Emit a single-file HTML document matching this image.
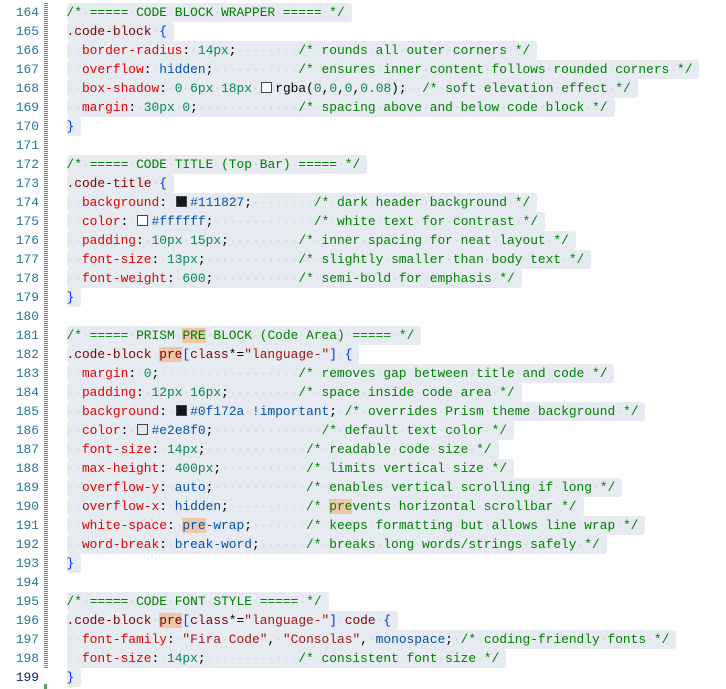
<!DOCTYPE html>
<html><head><meta charset="utf-8">
<style>
html,body{margin:0;padding:0;background:#fff;width:726px;height:689px;overflow:hidden}
.ed{position:absolute;left:0;top:3px;font-family:"Liberation Mono",monospace;font-size:12.88px;}
.ln{position:absolute;left:0;width:39px;text-align:right;color:#237893;line-height:19px;height:19px}
.cur{color:#0b216f}
.code{position:absolute;left:66.5px;line-height:19px;height:19px;white-space:pre;color:#000}
.sel{display:inline-block;background:#e5ebf1;padding-right:7px;height:19px;border-radius:3px}
.c{color:#008000}.p{color:#e50000}.v{color:#098658}.k{color:#0451a5}.s{color:#800000}.b{color:#0431fa}.str{color:#a31515}
.d{color:#d0d6dd}
.hl{background:#efc7a8}
.sw{display:inline-block;width:9px;height:9px;border:1px solid #444;margin:0 3.5px 0 1px;vertical-align:-1px;box-sizing:content-box}
.gut{position:absolute;left:44px;width:4px;background:repeating-linear-gradient(0deg,#3f8ad0 0 1px,#fff 1px 2px);}
.guide{position:absolute;left:68px;width:1px;background:#c8c8c8}
</style></head><body>
<div class="gut" style="top:3px;height:665px"></div>
<div style="position:absolute;left:44px;top:684px;width:3px;height:5px;background:#5aa05a"></div>
<div class="guide" style="top:630px;height:38px"></div>
<div class="ed">
<div class="ln" style="top:0">164</div><div class="code" style="top:0"><span class="sel"><span class="c">/*<span class="d">·</span>=====<span class="d">·</span>CODE<span class="d">·</span>BLOCK<span class="d">·</span>WRAPPER<span class="d">·</span>=====<span class="d">·</span>*/</span></span></div>
<div class="ln" style="top:19px">165</div><div class="code" style="top:19px"><span class="sel"><span class="s">.code-block</span><span class="d">·</span><span class="b">{</span></span></div>
<div class="ln" style="top:38px">166</div><div class="code" style="top:38px"><span class="sel"><span class="d">··</span><span class="p">border-radius</span>:<span class="d">·</span><span class="v">14px</span>;<span class="d">········</span><span class="c">/*<span class="d">·</span>rounds<span class="d">·</span>all<span class="d">·</span>outer<span class="d">·</span>corners<span class="d">·</span>*/</span></span></div>
<div class="ln" style="top:57px">167</div><div class="code" style="top:57px"><span class="sel"><span class="d">··</span><span class="p">overflow</span>:<span class="d">·</span><span class="k">hidden</span>;<span class="d">···········</span><span class="c">/*<span class="d">·</span>ensures<span class="d">·</span>inner<span class="d">·</span>content<span class="d">·</span>follows<span class="d">·</span>rounded<span class="d">·</span>corners<span class="d">·</span>*/</span></span></div>
<div class="ln" style="top:76px">168</div><div class="code" style="top:76px"><span class="sel"><span class="d">··</span><span class="p">box-shadow</span>:<span class="d">·</span><span class="v">0<span class="d">·</span>6px<span class="d">·</span>18px</span><span class="d">·</span><span class="sw" style="background:#fff"></span>rgba(<span class="v">0</span>,<span class="v">0</span>,<span class="v">0</span>,<span class="v">0.08</span>);<span class="d">··</span><span class="c">/*<span class="d">·</span>soft<span class="d">·</span>elevation<span class="d">·</span>effect<span class="d">·</span>*/</span></span></div>
<div class="ln" style="top:95px">169</div><div class="code" style="top:95px"><span class="sel"><span class="d">··</span><span class="p">margin</span>:<span class="d">·</span><span class="v">30px<span class="d">·</span>0</span>;<span class="d">·············</span><span class="c">/*<span class="d">·</span>spacing<span class="d">·</span>above<span class="d">·</span>and<span class="d">·</span>below<span class="d">·</span>code<span class="d">·</span>block<span class="d">·</span>*/</span></span></div>
<div class="ln" style="top:114px">170</div><div class="code" style="top:114px"><span class="sel"><span class="b">}</span></span></div>
<div class="ln" style="top:133px">171</div>
<div class="ln" style="top:152px">172</div><div class="code" style="top:152px"><span class="sel"><span class="c">/*<span class="d">·</span>=====<span class="d">·</span>CODE<span class="d">·</span>TITLE<span class="d">·</span>(Top<span class="d">·</span>Bar)<span class="d">·</span>=====<span class="d">·</span>*/</span></span></div>
<div class="ln" style="top:171px">173</div><div class="code" style="top:171px"><span class="sel"><span class="s">.code-title</span><span class="d">·</span><span class="b">{</span></span></div>
<div class="ln" style="top:190px">174</div><div class="code" style="top:190px"><span class="sel"><span class="d">··</span><span class="p">background</span>:<span class="d">·</span><span class="sw" style="background:#111827"></span><span class="k">#111827</span>;<span class="d">········</span><span class="c">/*<span class="d">·</span>dark<span class="d">·</span>header<span class="d">·</span>background<span class="d">·</span>*/</span></span></div>
<div class="ln" style="top:209px">175</div><div class="code" style="top:209px"><span class="sel"><span class="d">··</span><span class="p">color</span>:<span class="d">·</span><span class="sw" style="background:#fff"></span><span class="k">#ffffff</span>;<span class="d">·············</span><span class="c">/*<span class="d">·</span>white<span class="d">·</span>text<span class="d">·</span>for<span class="d">·</span>contrast<span class="d">·</span>*/</span></span></div>
<div class="ln" style="top:228px">176</div><div class="code" style="top:228px"><span class="sel"><span class="d">··</span><span class="p">padding</span>:<span class="d">·</span><span class="v">10px<span class="d">·</span>15px</span>;<span class="d">·········</span><span class="c">/*<span class="d">·</span>inner<span class="d">·</span>spacing<span class="d">·</span>for<span class="d">·</span>neat<span class="d">·</span>layout<span class="d">·</span>*/</span></span></div>
<div class="ln" style="top:247px">177</div><div class="code" style="top:247px"><span class="sel"><span class="d">··</span><span class="p">font-size</span>:<span class="d">·</span><span class="v">13px</span>;<span class="d">············</span><span class="c">/*<span class="d">·</span>slightly<span class="d">·</span>smaller<span class="d">·</span>than<span class="d">·</span>body<span class="d">·</span>text<span class="d">·</span>*/</span></span></div>
<div class="ln" style="top:266px">178</div><div class="code" style="top:266px"><span class="sel"><span class="d">··</span><span class="p">font-weight</span>:<span class="d">·</span><span class="v">600</span>;<span class="d">···········</span><span class="c">/*<span class="d">·</span>semi-bold<span class="d">·</span>for<span class="d">·</span>emphasis<span class="d">·</span>*/</span></span></div>
<div class="ln" style="top:285px">179</div><div class="code" style="top:285px"><span class="sel"><span class="b">}</span></span></div>
<div class="ln" style="top:304px">180</div>
<div class="ln" style="top:323px">181</div><div class="code" style="top:323px"><span class="sel"><span class="c">/*<span class="d">·</span>=====<span class="d">·</span>PRISM<span class="d">·</span><span class="hl">PRE</span><span class="d">·</span>BLOCK<span class="d">·</span>(Code<span class="d">·</span>Area)<span class="d">·</span>=====<span class="d">·</span>*/</span></span></div>
<div class="ln" style="top:342px">182</div><div class="code" style="top:342px"><span class="sel"><span class="s">.code-block</span><span class="d">·</span><span class="s hl">pre</span><span class="b">[</span><span class="s">class</span>*=<span class="str">"language-"</span><span class="b">]</span><span class="d">·</span><span class="b">{</span></span></div>
<div class="ln" style="top:361px">183</div><div class="code" style="top:361px"><span class="sel"><span class="d">··</span><span class="p">margin</span>:<span class="d">·</span><span class="v">0</span>;<span class="d">··················</span><span class="c">/*<span class="d">·</span>removes<span class="d">·</span>gap<span class="d">·</span>between<span class="d">·</span>title<span class="d">·</span>and<span class="d">·</span>code<span class="d">·</span>*/</span></span></div>
<div class="ln" style="top:380px">184</div><div class="code" style="top:380px"><span class="sel"><span class="d">··</span><span class="p">padding</span>:<span class="d">·</span><span class="v">12px<span class="d">·</span>16px</span>;<span class="d">·········</span><span class="c">/*<span class="d">·</span>space<span class="d">·</span>inside<span class="d">·</span>code<span class="d">·</span>area<span class="d">·</span>*/</span></span></div>
<div class="ln" style="top:399px">185</div><div class="code" style="top:399px"><span class="sel"><span class="d">··</span><span class="p">background</span>:<span class="d">·</span><span class="sw" style="background:#0f172a"></span><span class="k">#0f172a</span><span class="d">·</span><span class="k">!important</span>;<span class="d">·</span><span class="c">/*<span class="d">·</span>overrides<span class="d">·</span>Prism<span class="d">·</span>theme<span class="d">·</span>background<span class="d">·</span>*/</span></span></div>
<div class="ln" style="top:418px">186</div><div class="code" style="top:418px"><span class="sel"><span class="d">··</span><span class="p">color</span>:<span class="d">·</span><span class="sw" style="background:#e2e8f0"></span><span class="k">#e2e8f0</span>;<span class="d">··············</span><span class="c">/*<span class="d">·</span>default<span class="d">·</span>text<span class="d">·</span>color<span class="d">·</span>*/</span></span></div>
<div class="ln" style="top:437px">187</div><div class="code" style="top:437px"><span class="sel"><span class="d">··</span><span class="p">font-size</span>:<span class="d">·</span><span class="v">14px</span>;<span class="d">·············</span><span class="c">/*<span class="d">·</span>readable<span class="d">·</span>code<span class="d">·</span>size<span class="d">·</span>*/</span></span></div>
<div class="ln" style="top:456px">188</div><div class="code" style="top:456px"><span class="sel"><span class="d">··</span><span class="p">max-height</span>:<span class="d">·</span><span class="v">400px</span>;<span class="d">···········</span><span class="c">/*<span class="d">·</span>limits<span class="d">·</span>vertical<span class="d">·</span>size<span class="d">·</span>*/</span></span></div>
<div class="ln" style="top:475px">189</div><div class="code" style="top:475px"><span class="sel"><span class="d">··</span><span class="p">overflow-y</span>:<span class="d">·</span><span class="k">auto</span>;<span class="d">············</span><span class="c">/*<span class="d">·</span>enables<span class="d">·</span>vertical<span class="d">·</span>scrolling<span class="d">·</span>if<span class="d">·</span>long<span class="d">·</span>*/</span></span></div>
<div class="ln" style="top:494px">190</div><div class="code" style="top:494px"><span class="sel"><span class="d">··</span><span class="p">overflow-x</span>:<span class="d">·</span><span class="k">hidden</span>;<span class="d">··········</span><span class="c">/*<span class="d">·</span><span class="hl">pre</span>vents<span class="d">·</span>horizontal<span class="d">·</span>scrollbar<span class="d">·</span>*/</span></span></div>
<div class="ln" style="top:513px">191</div><div class="code" style="top:513px"><span class="sel"><span class="d">··</span><span class="p">white-space</span>:<span class="d">·</span><span class="k"><span class="hl">pre</span>-wrap</span>;<span class="d">·······</span><span class="c">/*<span class="d">·</span>keeps<span class="d">·</span>formatting<span class="d">·</span>but<span class="d">·</span>allows<span class="d">·</span>line<span class="d">·</span>wrap<span class="d">·</span>*/</span></span></div>
<div class="ln" style="top:532px">192</div><div class="code" style="top:532px"><span class="sel"><span class="d">··</span><span class="p">word-break</span>:<span class="d">·</span><span class="k">break-word</span>;<span class="d">······</span><span class="c">/*<span class="d">·</span>breaks<span class="d">·</span>long<span class="d">·</span>words/strings<span class="d">·</span>safely<span class="d">·</span>*/</span></span></div>
<div class="ln" style="top:551px">193</div><div class="code" style="top:551px"><span class="sel"><span class="b">}</span></span></div>
<div class="ln" style="top:570px">194</div>
<div class="ln" style="top:589px">195</div><div class="code" style="top:589px"><span class="sel"><span class="c">/*<span class="d">·</span>=====<span class="d">·</span>CODE<span class="d">·</span>FONT<span class="d">·</span>STYLE<span class="d">·</span>=====<span class="d">·</span>*/</span></span></div>
<div class="ln" style="top:608px">196</div><div class="code" style="top:608px"><span class="sel"><span class="s">.code-block</span><span class="d">·</span><span class="s hl">pre</span><span class="b">[</span><span class="s">class</span>*=<span class="str">"language-"</span><span class="b">]</span><span class="d">·</span><span class="s">code</span><span class="d">·</span><span class="b">{</span></span></div>
<div class="ln" style="top:627px">197</div><div class="code" style="top:627px"><span class="sel"><span class="d">··</span><span class="p">font-family</span>:<span class="d">·</span><span class="str">"Fira<span class="d">·</span>Code"</span>,<span class="d">·</span><span class="str">"Consolas"</span>,<span class="d">·</span><span class="k">monospace</span>;<span class="d">·</span><span class="c">/*<span class="d">·</span>coding-friendly<span class="d">·</span>fonts<span class="d">·</span>*/</span></span></div>
<div class="ln" style="top:646px">198</div><div class="code" style="top:646px"><span class="sel"><span class="d">··</span><span class="p">font-size</span>:<span class="d">·</span><span class="v">14px</span>;<span class="d">············</span><span class="c">/*<span class="d">·</span>consistent<span class="d">·</span>font<span class="d">·</span>size<span class="d">·</span>*/</span></span></div>
<div class="ln cur" style="top:665px">199</div><div class="code" style="top:665px"><span class="sel"><span class="b">}</span></span></div>
</div>
</body></html>
